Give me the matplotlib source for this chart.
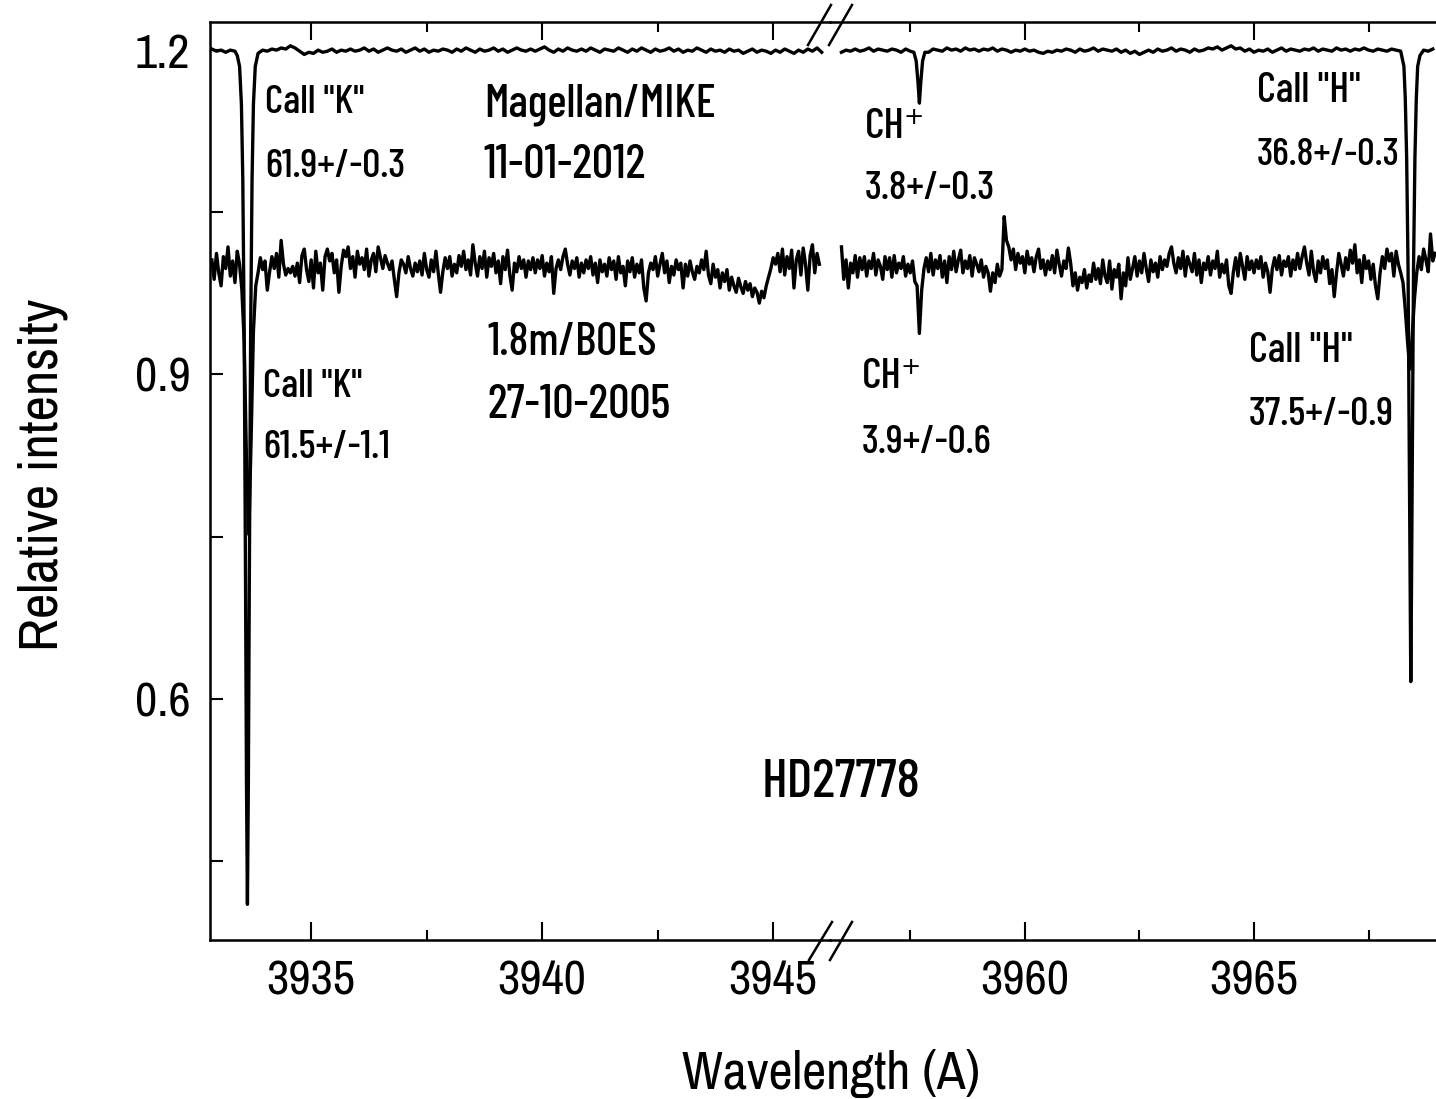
import numpy as np
import matplotlib
matplotlib.use('Agg')
import matplotlib.pyplot as plt
from matplotlib.lines import Line2D

plt.rcParams['font.family'] = ['Archivo Narrow', 'DejaVu Sans']
plt.rcParams['font.stretch'] = 'condensed'
note_font = ['Barlow Condensed', 'DejaVu Sans']

# 1.8m/BOES spectrum (27-10-2005), sampled every 0.05 A
boes_left_start = 3932.85
boes_left_flux = [
    1.006, 0.988, 1.012, 0.994, 0.982, 1.009, 0.998, 1.018, 0.991, 1.005,
    0.985, 1.014, 1.002, 0.978, 0.930, 0.820, 0.752, 0.840, 0.940, 0.982,
    0.994, 1.008, 0.997, 1.005, 0.978, 0.995, 1.009, 0.998, 1.012, 0.990,
    1.024, 1.002, 0.992, 0.998, 0.994, 1.000, 0.991, 1.003, 0.985, 1.010,
    1.016, 0.997, 0.986, 1.006, 0.980, 1.014, 0.994, 1.003, 0.978, 1.009,
    1.016, 1.005, 1.012, 0.994, 1.006, 0.976, 1.000, 1.015, 1.009, 1.018,
    0.998, 1.009, 0.990, 1.014, 1.002, 1.008, 0.997, 1.016, 0.991, 1.006,
    1.012, 0.995, 1.018, 1.008, 0.998, 1.010, 1.003, 0.997, 1.005, 0.988,
    0.972, 0.994, 1.006, 1.002, 0.994, 1.009, 0.998, 0.991, 1.003, 0.995,
    1.005, 0.992, 1.012, 0.997, 0.990, 1.006, 0.995, 1.014, 0.994, 0.976,
    0.995, 1.008, 0.998, 1.009, 0.991, 1.002, 0.994, 1.010, 1.000, 1.014,
    0.997, 1.006, 0.992, 1.020, 1.003, 0.991, 1.009, 0.998, 1.014, 0.990,
    1.008, 1.000, 1.012, 0.994, 1.005, 0.984, 1.009, 0.997, 1.015, 0.992,
    0.978, 1.003, 0.995, 1.009, 0.998, 1.006, 0.990, 1.005, 0.997, 1.008,
    0.994, 1.006, 0.998, 1.010, 0.991, 1.003, 0.995, 1.009, 0.975, 0.998,
    1.006, 0.997, 1.009, 1.016, 1.002, 0.992, 1.005, 0.998, 1.008, 0.990,
    1.003, 0.994, 1.006, 0.998, 1.009, 0.992, 1.003, 0.985, 1.006, 0.995,
    1.002, 0.991, 1.008, 0.997, 1.005, 0.988, 1.009, 0.994, 1.000, 0.982,
    1.005, 0.995, 1.008, 0.990, 1.002, 0.994, 1.006, 0.980, 0.968, 0.994,
    1.003, 0.997, 1.009, 0.991, 1.002, 1.012, 0.994, 1.005, 0.985, 1.000,
    0.992, 1.006, 0.997, 1.003, 0.980, 1.002, 0.991, 1.005, 0.995, 0.988,
    1.000, 0.994, 1.006, 0.997, 1.014, 0.992, 0.984, 1.002, 0.990, 0.997,
    0.980, 0.994, 0.986, 0.997, 0.978, 0.990, 0.982, 0.976, 0.989, 0.981,
    0.975, 0.986, 0.978, 0.984, 0.972, 0.980, 0.976, 0.966, 0.977, 0.971,
    0.982, 0.990, 0.998, 1.008, 1.002, 1.012, 0.995, 1.016, 0.992, 1.009,
    0.998, 1.015, 0.980, 1.006, 1.014, 0.992, 1.017, 1.002, 0.978, 1.010,
    1.020, 0.994, 1.012, 1.002,
]

boes_right_start = 3956.00
boes_right_flux = [
    1.018, 0.988, 1.006, 0.980, 1.003, 0.994, 1.010, 0.990, 1.008, 0.997,
    1.009, 0.991, 1.005, 0.998, 1.012, 0.992, 1.006, 1.000, 0.988, 1.009,
    0.997, 1.008, 0.990, 1.010, 0.994, 1.003, 0.998, 1.009, 0.991, 1.002,
    0.994, 1.005, 0.986, 0.982, 0.938, 0.978, 0.998, 1.008, 0.995, 1.012,
    0.992, 1.006, 0.998, 1.010, 0.990, 1.005, 0.985, 1.009, 0.997, 1.014,
    0.995, 1.006, 1.015, 0.994, 1.005, 0.998, 1.010, 0.991, 1.008, 1.002,
    0.995, 1.006, 0.990, 1.000, 0.994, 0.977, 0.994, 0.985, 1.002, 0.991,
    0.997, 1.046, 1.024, 1.018, 1.006, 1.016, 0.997, 1.012, 1.003, 1.009,
    0.994, 1.014, 1.002, 1.008, 0.995, 1.009, 1.016, 0.998, 1.006, 0.992,
    1.005, 0.997, 1.010, 0.994, 1.015, 1.002, 0.991, 1.005, 0.998, 1.017,
    1.003, 0.982, 0.994, 0.978, 0.990, 0.985, 0.997, 0.980, 0.992, 0.986,
    1.003, 0.988, 0.998, 0.984, 1.006, 0.991, 0.985, 1.005, 0.979, 0.997,
    0.990, 1.002, 0.970, 0.994, 0.982, 1.008, 0.988, 0.998, 1.009, 0.991,
    1.005, 0.994, 1.012, 0.998, 0.986, 1.006, 0.995, 1.003, 0.990, 1.009,
    0.997, 1.006, 1.000, 1.012, 1.018, 1.003, 0.994, 1.008, 0.998, 1.014,
    0.991, 1.009, 1.002, 0.995, 1.012, 0.992, 1.006, 0.985, 1.003, 0.997,
    1.009, 0.992, 1.005, 0.998, 1.014, 0.990, 1.002, 0.994, 1.006, 0.982,
    0.975, 0.995, 1.008, 0.991, 1.012, 1.000, 0.988, 1.009, 0.997, 1.005,
    0.994, 1.006, 0.998, 1.009, 0.990, 1.003, 0.995, 0.976, 0.998, 1.008,
    0.997, 1.010, 0.992, 1.005, 1.000, 1.009, 0.991, 1.006, 0.997, 1.012,
    0.998, 1.009, 1.018, 1.003, 0.992, 1.014, 0.995, 0.986, 1.005, 0.994,
    1.009, 0.998, 1.006, 0.984, 0.997, 0.972, 0.994, 1.012, 1.002, 0.991,
    1.008, 0.997, 1.015, 1.003, 1.020, 0.994, 1.006, 0.985, 1.010, 0.998,
    1.005, 0.988, 1.002, 0.982, 0.970, 0.994, 1.009, 0.998, 1.016, 1.005,
    1.012, 0.991, 1.014, 1.002, 0.994, 0.985, 0.960, 0.930, 0.905, 0.935,
    0.970, 0.994, 1.009, 0.997, 1.016, 1.006, 0.995, 1.030, 1.005, 1.012,
]

# Magellan/MIKE spectrum (11-01-2012): continuum every 0.1 A plus line cores
mike_left_start = 3932.85
mike_left_cont = [
    1.001, 0.999, 1.000, 0.998, 1.000, 0.999, 1.000, 1.000, 1.000, 1.000,
    0.997, 1.000, 0.999, 1.001, 1.000, 1.002, 1.001, 1.004, 1.002, 0.999,
    0.996, 0.998, 0.997, 1.000, 0.998, 0.999, 1.001, 0.998, 1.000, 0.999,
    1.001, 0.999, 1.000, 1.002, 0.999, 1.001, 0.998, 1.000, 1.002, 1.000,
    0.999, 1.001, 0.998, 1.000, 1.002, 0.999, 1.001, 0.998, 1.000, 0.999,
    1.001, 1.000, 0.998, 1.001, 0.999, 1.002, 1.000, 0.998, 1.001, 0.999,
    1.000, 1.002, 0.999, 1.001, 0.998, 1.000, 1.002, 1.000, 0.999, 1.001,
    0.999, 1.001, 1.003, 1.000, 0.998, 1.001, 0.999, 1.002, 1.000, 0.999,
    1.001, 0.999, 1.002, 1.000, 0.998, 1.001, 1.000, 0.999, 1.002, 1.000,
    0.998, 1.001, 0.999, 1.002, 1.000, 0.998, 1.001, 0.999, 1.000, 1.002,
    0.999, 1.001, 0.998, 1.000, 0.999, 1.002, 1.000, 0.998, 1.001, 0.999,
    1.000, 0.998, 1.001, 0.999, 1.000, 0.997, 0.999, 1.001, 0.998, 1.000,
    0.999, 0.997, 1.000, 0.998, 1.001, 0.999, 0.997, 1.000, 0.998, 1.001,
    0.999, 1.002, 0.998,
]
mike_k_wl = [3933.40, 3933.45, 3933.49, 3933.52, 3933.55, 3933.58, 3933.60, 3933.62,
             3933.64, 3933.66, 3933.69, 3933.72, 3933.75, 3933.79, 3933.84]
mike_k_flux = [0.995, 0.985, 0.950, 0.880, 0.740, 0.500, 0.320, 0.210,
               0.320, 0.500, 0.740, 0.880, 0.950, 0.985, 0.995]

mike_right_start = 3956.00
mike_right_cont = [
    0.998, 1.000, 0.999, 1.001, 0.999, 1.000, 1.002, 0.999, 1.001, 1.000,
    0.999, 1.001, 1.000, 0.998, 1.001, 0.999, 1.000, 1.000, 1.000, 0.998,
    1.001, 1.000, 0.999, 1.002, 1.000, 1.001, 0.999, 1.002, 1.000, 1.001,
    0.999, 1.001, 1.000, 1.002, 0.999, 1.001, 1.000, 0.998, 1.000, 0.999,
    1.001, 0.999, 1.000, 0.998, 0.997, 0.999, 0.998, 1.000, 0.999, 1.001,
    1.000, 0.998, 1.001, 0.999, 1.000, 1.002, 0.999, 1.001, 1.000, 0.999,
    1.001, 0.998, 1.000, 0.997, 0.999, 0.996, 0.998, 1.000, 0.998, 1.001,
    0.999, 1.000, 1.002, 0.999, 1.001, 1.000, 0.998, 1.001, 0.999, 1.000,
    1.002, 1.001, 1.003, 1.000, 1.002, 1.004, 1.001, 1.002, 0.999, 1.001,
    0.998, 1.000, 0.999, 1.001, 0.998, 1.000, 1.002, 0.999, 1.001, 1.000,
    0.999, 1.001, 1.000, 1.002, 0.999, 1.001, 1.000, 0.999, 1.002, 1.000,
    1.001, 0.999, 1.001, 1.000, 1.002, 1.000, 0.999, 1.001, 1.000, 0.999,
    1.001, 1.000, 0.999, 1.000, 1.000, 1.000, 1.000, 1.000, 0.999, 1.001,
]
mike_ch_wl = [3957.58, 3957.63, 3957.67, 3957.70, 3957.73, 3957.77, 3957.82]
mike_ch_flux = [0.998, 0.990, 0.970, 0.951, 0.970, 0.990, 0.998]
mike_h_wl = [3968.22, 3968.27, 3968.30, 3968.33, 3968.36, 3968.385, 3968.405, 3968.42,
             3968.435, 3968.455, 3968.48, 3968.51, 3968.54, 3968.57, 3968.62]
mike_h_flux = [0.995, 0.985, 0.955, 0.900, 0.800, 0.640, 0.500, 0.416,
               0.500, 0.640, 0.800, 0.900, 0.955, 0.985, 0.995]

mike_offset = 0.2


def on_grid(start, step, flux):
    flux = np.asarray(flux)
    return start + step * np.arange(len(flux)), flux


def insert_lines(wl, flux, *lines):
    # replace continuum samples that fall inside each line window by the line profile
    for lw_, lf_ in lines:
        lw_, lf_ = np.asarray(lw_), np.asarray(lf_)
        keep = (wl < lw_.min()) | (wl > lw_.max())
        wl = np.concatenate([wl[keep], lw_])
        flux = np.concatenate([flux[keep], lf_])
        order = np.argsort(wl)
        wl, flux = wl[order], flux[order]
    return wl, flux


bl_wl, bl_fl = on_grid(boes_left_start, 0.05, boes_left_flux)
br_wl, br_fl = on_grid(boes_right_start, 0.05, boes_right_flux)
ml_wl, ml_fl = insert_lines(*on_grid(mike_left_start, 0.1, mike_left_cont),
                            (mike_k_wl, mike_k_flux))
mr_wl, mr_fl = insert_lines(*on_grid(mike_right_start, 0.1, mike_right_cont),
                            (mike_ch_wl, mike_ch_flux), (mike_h_wl, mike_h_flux))

W, H = 1436, 1099
fig = plt.figure(figsize=(W / 100, H / 100), dpi=100)


def px_rect(x0, y0, x1, y1):
    return [x0 / W, 1 - y1 / H, (x1 - x0) / W, (y1 - y0) / H]


ax1 = fig.add_axes(px_rect(210, 22, 830, 940))
ax2 = fig.add_axes(px_rect(830, 22, 1436, 940), sharey=ax1)
ax2.patch.set_alpha(0)

lw = 2.4
ax1.plot(bl_wl, bl_fl, color='k', lw=lw)
ax1.plot(ml_wl, ml_fl + mike_offset, color='k', lw=lw)
ax2.plot(br_wl, br_fl, color='k', lw=lw)
ax2.plot(mr_wl, mr_fl + mike_offset, color='k', lw=lw)

ax1.set_xlim(3932.81, 3946.23)
ax2.set_xlim(3955.75, 3968.97)
ax1.set_ylim(0.377, 1.226)

ax1.set_xticks([3935, 3940, 3945])
ax1.set_xticks([3937.5, 3942.5], minor=True)
ax2.set_xticks([3960, 3965])
ax2.set_xticks([3957.5, 3962.5, 3967.5], minor=True)
ax1.set_yticks([0.6, 0.9, 1.2])
ax1.set_yticks([0.45, 0.75, 1.05], minor=True)
ax1.set_yticklabels(['0.6', '0.9', '1.2'])

for ax in (ax1, ax2):
    ax.tick_params(axis='x', which='both', direction='in', top=True, bottom=True,
                   width=1.5, labelsize=35, pad=14)
    ax.tick_params(axis='x', which='major', length=13)
    ax.tick_params(axis='x', which='minor', length=7)
    for side in ('top', 'bottom', 'left', 'right'):
        ax.spines[side].set_linewidth(1.8)
ax1.tick_params(axis='y', which='both', direction='in', length=9, width=1.5,
                labelsize=35, pad=14)
ax2.tick_params(axis='y', which='both', left=False, right=False, labelleft=False)
ax1.spines['right'].set_visible(False)
ax2.spines['left'].set_visible(False)
ax2.spines['right'].set_visible(False)

# axis break marks on the top and bottom frame
for x0, x1, ya, yb in [(809, 832, 960, 922), (830, 852, 960, 922),
                       (808, 831, 45, 5), (829, 852, 45, 5)]:
    fig.add_artist(Line2D([x0 / W, x1 / W], [1 - ya / H, 1 - yb / H], color='k', lw=1.8))

fig.text(831 / W, 1 - 1073 / H, 'Wavelength (A)', ha='center', va='center', fontsize=38)
fig.text(43 / W, 1 - 475 / H, 'Relative intensity', ha='center', va='center',
         rotation=90, fontsize=40)


def note(ax, x, y, s, size):
    ax.text(x, y, s, fontsize=size, family=note_font, weight='medium',
            va='baseline', clip_on=False)


# Magellan/MIKE labels
note(ax1, 3934.00, 1.1418, 'Call "K"', 29)
note(ax1, 3934.00, 1.0826, '61.9+/-0.3', 29)
note(ax1, 3938.74, 1.139, 'Magellan/MIKE', 33)
note(ax1, 3938.74, 1.0817, '11-01-2012', 34)
note(ax2, 3956.51, 1.1186, 'CH⁺', 31)
note(ax2, 3956.51, 1.0623, '3.8+/-0.3', 29)
note(ax2, 3965.07, 1.1519, 'Call "H"', 30)
note(ax2, 3965.07, 1.0937, '36.8+/-0.3', 28)

# 1.8m/BOES labels
note(ax1, 3938.81, 0.918, '1.8m/BOES', 33)
note(ax1, 3938.81, 0.860, '27-10-2005', 34)
note(ax1, 3933.96, 0.8792, 'Call "K"', 29)
note(ax1, 3933.96, 0.8228, '61.5+/-1.1', 29)
note(ax2, 3956.45, 0.8875, 'CH⁺', 31)
note(ax2, 3956.45, 0.8274, '3.9+/-0.6', 29)
note(ax2, 3964.89, 0.9116, 'Call "H"', 30)
note(ax2, 3964.89, 0.8533, '37.5+/-0.9', 29)

note(ax1, 3944.76, 0.5094, 'HD27778', 39)

fig.savefig('out.png', dpi=100)
